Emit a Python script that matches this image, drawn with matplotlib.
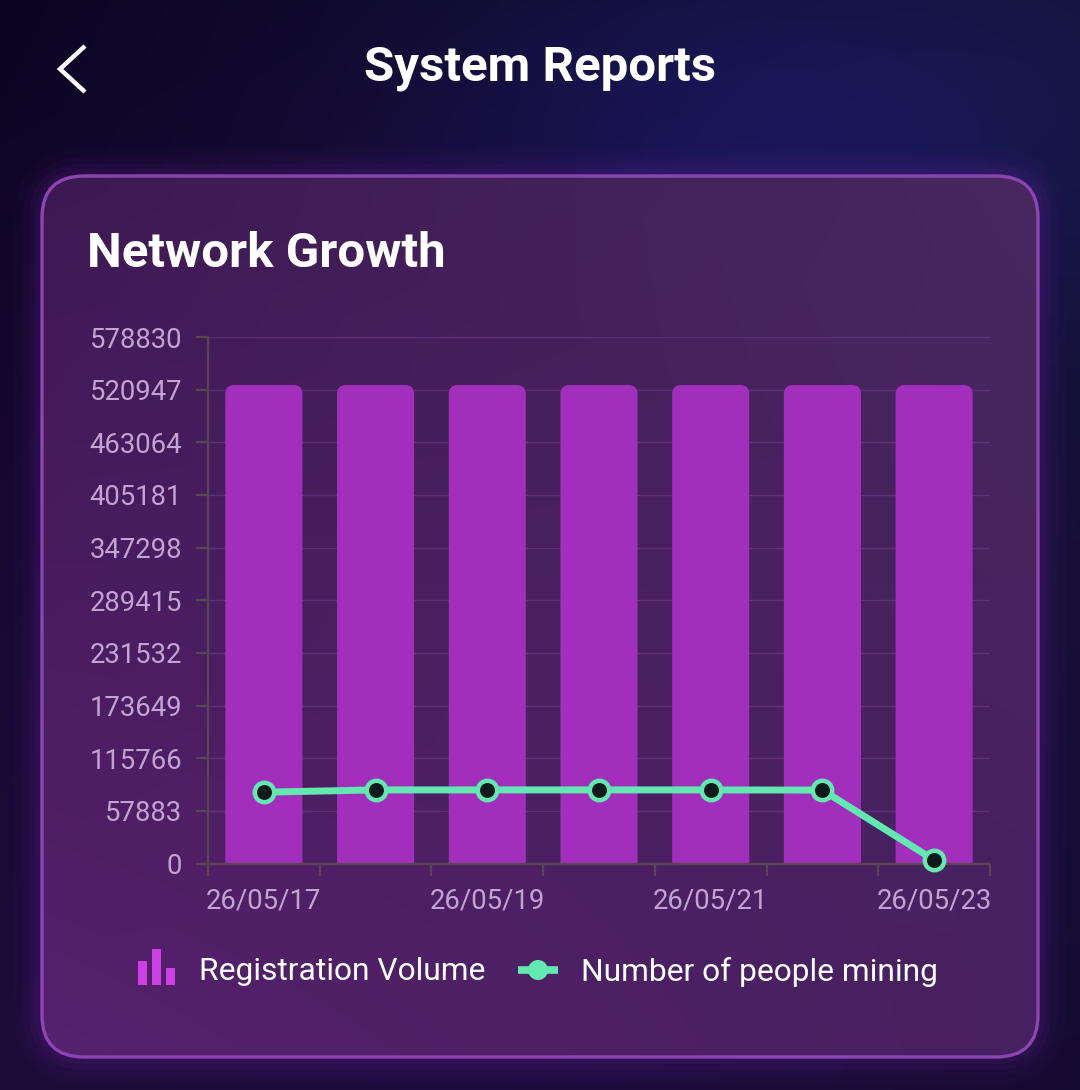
import numpy as np
import matplotlib
matplotlib.use("Agg")
import matplotlib.pyplot as plt
from matplotlib.patches import FancyBboxPatch, Rectangle, Circle
from matplotlib.lines import Line2D

# ---------------- data ----------------
dates = ["26/05/17", "26/05/18", "26/05/19", "26/05/20", "26/05/21", "26/05/22", "26/05/23"]
registration = [526000, 526000, 526000, 526000, 526000, 526000, 526000]
mining = [78400, 80900, 80900, 80900, 80900, 80700, 3800]
y_ticks = [0, 57883, 115766, 173649, 231532, 289415, 347298, 405181, 463064, 520947, 578830]
x_label_dates = ["26/05/17", "", "26/05/19", "", "26/05/21", "", "26/05/23"]
page_title = "System Reports"
card_title = "Network Growth"
legend_labels = ["Registration Volume", "Number of people mining"]

plt.rcParams['font.family'] = ['Roboto', 'DejaVu Sans']

W, H = 1080, 1090
fig = plt.figure(figsize=(10.8, 10.9), dpi=100)
bg = fig.add_axes([0, 0, 1, 1])
bg.set_xlim(0, W)
bg.set_ylim(H, 0)
bg.axis('off')


def hexrgb(h):
    h = h.lstrip('#')
    return np.array([int(h[i:i + 2], 16) / 255 for i in (0, 2, 4)])


def bilinear(w, h, tl, tr, bl, br):
    xs = np.linspace(0, 1, w)[None, :, None]
    ys = np.linspace(0, 1, h)[:, None, None]
    tl, tr, bl, br = map(hexrgb, (tl, tr, bl, br))
    top = tl * (1 - xs) + tr * xs
    bot = bl * (1 - xs) + br * xs
    return top * (1 - ys) + bot * ys


# page background
img = bilinear(W // 4, H // 4, '#0b0420', '#121436', '#1c0b36', '#140a2e')
yy, xx = np.mgrid[0:H // 4, 0:W // 4] * 4
blob = np.exp(-(((xx - 800) / 330) ** 2 + ((yy - 130) / 180) ** 2))
img = img + blob[..., None] * hexrgb('#06092a') * 0.8
glow = np.exp(-(((xx - 540) / 500) ** 2 + ((yy - 620) / 520) ** 2))
img = img + glow[..., None] * hexrgb('#1a0630') * 0.5
bg.imshow(np.clip(img, 0, 1), extent=(0, W, H, 0), aspect='auto', zorder=0,
          interpolation='bilinear')

# card glow
cx, cy, cw, ch, rad = 42, 176, 996, 881, 42
for lw, a in [(40, 0.04), (28, 0.05), (18, 0.07), (10, 0.09)]:
    bg.add_patch(FancyBboxPatch((cx, cy), cw, ch, boxstyle=f"round,pad=0,rounding_size={rad}",
                                fill=False, ec='#7b2aa6', lw=lw, alpha=a, zorder=1))

card = FancyBboxPatch((cx, cy), cw, ch, boxstyle=f"round,pad=0,rounding_size={rad}",
                      fc='none', ec='none', zorder=2)
bg.add_patch(card)
cimg = bilinear(100, 100, '#3d1953', '#48285f', '#56216d', '#47205f')
ci = bg.imshow(cimg, extent=(cx, cx + cw, cy + ch, cy), aspect='auto', zorder=2,
               interpolation='bilinear')
ci.set_clip_path(card)
bg.add_patch(FancyBboxPatch((cx, cy), cw, ch, boxstyle=f"round,pad=0,rounding_size={rad}",
                            fill=False, ec='#8c44b3', lw=2.4, zorder=3))

# header
bg.add_line(Line2D([85, 60, 85], [46, 69, 92], color='white', lw=3.2,
                   solid_joinstyle='miter', solid_capstyle='butt', zorder=5))
bg.text(540, 68, page_title, color='white', fontsize=35.5, fontweight='bold',
        ha='center', va='center', zorder=5)
bg.text(87, 254, card_title, color='white', fontsize=35.5, fontweight='bold',
        ha='left', va='center', zorder=5)

# legend
for x0, top in [(138, 961), (152, 949), (166, 968)]:
    bg.add_patch(Rectangle((x0, top), 9, 985 - top, fc='#d03fe6', ec='none', zorder=5))
bg.text(199, 972, legend_labels[0], color='white', fontsize=22.9, ha='left', va='center', zorder=5)
bg.add_line(Line2D([518, 558], [970, 970], color='#62e8b0', lw=5.5, zorder=5,
                   solid_capstyle='butt'))
bg.add_patch(Circle((538, 970), 10, fc='#62e8b0', ec='none', zorder=6))
bg.text(581, 972, legend_labels[1], color='white', fontsize=22.9, ha='left', va='center', zorder=5)

# ---------------- chart ----------------
ax_l, ax_r, ax_t, ax_b = 208, 990, 337, 863.5
ax = fig.add_axes([ax_l / W, 1 - ax_b / H, (ax_r - ax_l) / W, (ax_b - ax_t) / H])
ax.patch.set_alpha(0)
n = len(dates)
ax.set_xlim(-0.5, n - 0.5)
ax.set_ylim(0, y_ticks[-1])

px_x = (ax_r - ax_l) / n            # pixels per x unit
px_y = (ax_b - ax_t) / y_ticks[-1]  # pixels per y unit
r_px = 9
for i, v in enumerate(registration):
    bw = 0.69
    p = FancyBboxPatch((i - bw / 2, -r_px / px_y * 2), bw, v + r_px / px_y * 2,
                       boxstyle=f"round,pad=0,rounding_size={r_px / px_x}",
                       mutation_aspect=px_x / px_y, fc='#a12fbc', ec='none', zorder=2)
    ax.add_patch(p)

x = np.arange(n)
ax.plot(x, mining, color='#62e8b0', lw=5, zorder=4, solid_capstyle='round',
        marker='o', ms=14, mfc='#0c1a1c', mec='#62e8b0', mew=3.2, clip_on=False)

ax.set_yticks(y_ticks)
ax.set_yticklabels([str(t) for t in y_ticks])
ax.set_xticks(np.arange(-0.5, n, 1.0))
ax.set_xticklabels([])
ax.set_xticks(x, minor=True)
ax.set_xticklabels(x_label_dates, minor=True)
ax.tick_params(axis='x', which='minor', length=0, pad=17, labelsize=19.8, labelcolor='#c3a3d3')
ax.tick_params(axis='x', which='major', length=8.6, width=1.6, color='#5a4550')
ax.tick_params(axis='y', length=8.6, width=1.6, color='#5a4550', pad=10,
               labelsize=19.8, labelcolor='#c3a3d3')
ax.grid(axis='y', color='#6b3f84', lw=1, alpha=0.6, zorder=0)
for s in ['top', 'right']:
    ax.spines[s].set_visible(False)
for s in ['left', 'bottom']:
    ax.spines[s].set_color('#5a4550')
    ax.spines[s].set_linewidth(1.6)

fig.savefig('out.png', dpi=100)
